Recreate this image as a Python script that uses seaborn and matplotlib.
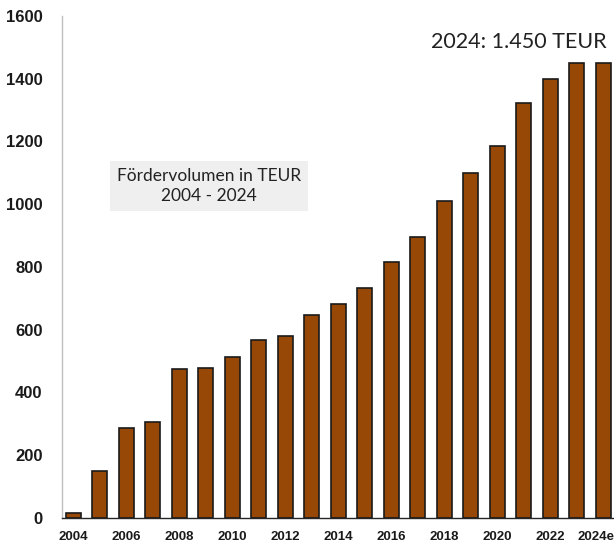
import matplotlib
matplotlib.use('Agg')
import matplotlib.pyplot as plt
import matplotlib.transforms as mtransforms
import seaborn as sns
import pandas as pd

# Fördervolumen in TEUR je Jahr
jahre = ['2004', '2005', '2006', '2007', '2008', '2009', '2010', '2011', '2012', '2013', '2014',
         '2015', '2016', '2017', '2018', '2019', '2020', '2021', '2022', '2023', '2024e']
volumen = [16, 150, 288, 306, 475, 478, 513, 567, 581, 646, 682,
           733, 815, 895, 1010, 1099, 1185, 1322, 1399, 1450, 1450]
tick_labels = [j if i % 2 == 0 else '' for i, j in enumerate(jahre)]

df = pd.DataFrame({'Jahr': jahre, 'Volumen': volumen})

sns.set_style('white')
plt.rcParams['font.family'] = ['Lato', 'DejaVu Sans']
tick_font = ['Liberation Sans Narrow', 'Liberation Sans', 'DejaVu Sans']

fig = plt.figure(figsize=(6.14, 5.44), dpi=100)
ax = fig.add_axes([62 / 614, 26 / 544, 552 / 614, 502 / 544])

sns.barplot(data=df, x='Jahr', y='Volumen', color='#974806', saturation=1,
            width=0.57, edgecolor='#1a1a1a', linewidth=1.2, ax=ax)

ax.set_ylim(0, 1600)
ax.set_xlim(-0.43, 20.4)
ax.set_yticks(range(0, 1601, 200))
ax.set_xticks(range(len(jahre)))
ax.set_xticklabels(tick_labels)
for lab in ax.get_xticklabels():
    lab.set_fontsize(9.5)
    lab.set_fontweight('bold')
    lab.set_family(tick_font)
for lab in ax.get_yticklabels():
    lab.set_fontsize(12)
    lab.set_fontweight('bold')
    lab.set_family(tick_font)
ax.tick_params(axis='both', length=0, labelcolor='#1a1a1a')
ax.tick_params(axis='y', pad=14)
ax.tick_params(axis='x', pad=9)
ax.set_xlabel('')
ax.set_ylabel('')

# letzte Beschriftung etwas nach links, damit sie im Bild bleibt
last = ax.get_xticklabels()[-1]
last.set_transform(last.get_transform() + mtransforms.ScaledTranslation(-7 / 100, 0, fig.dpi_scale_trans))

for s in ['top', 'right']:
    ax.spines[s].set_visible(False)
ax.spines['left'].set_color('#bfbfbf')
ax.spines['left'].set_linewidth(1)
ax.spines['bottom'].set_color('#262626')
ax.spines['bottom'].set_linewidth(1)

fig.text(519 / 614, 1 - 42 / 544, '2024: 1.450 TEUR', fontsize=15.5,
         ha='center', va='center', color='#222222')
fig.text(209 / 614, 1 - 186 / 544, 'Fördervolumen in TEUR\n2004 - 2024', fontsize=12.5,
         ha='center', va='center', color='#222222', linespacing=1.3,
         bbox=dict(facecolor='#efefef', edgecolor='none', pad=5))

fig.savefig('out.png', dpi=100)
